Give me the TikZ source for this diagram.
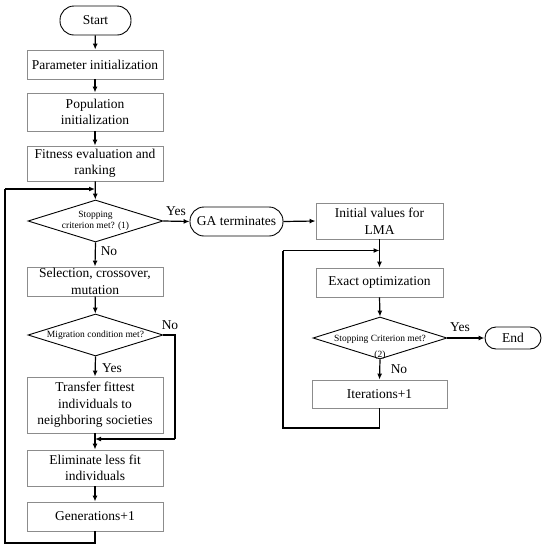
\documentclass[tikz,border=0pt]{standalone}
\usepackage{fontspec}
\setmainfont{Liberation Serif}
\usetikzlibrary{shapes.geometric,arrows.meta}
\begin{document}
\begin{tikzpicture}[x=1pt,y=-1pt,
  box/.style={draw=black!45,line width=0.9pt,rectangle,inner sep=0pt,align=center,font=\fontsize{13.5}{16.5}\selectfont},
  term/.style={draw=black,line width=0.9pt,rectangle,rounded corners=11pt,inner sep=0pt,align=center,font=\fontsize{13.5}{16.5}\selectfont},
  dia/.style={draw=black,line width=0.9pt,diamond,inner sep=0pt},
  dtext/.style={inner sep=0pt,align=center,font=\fontsize{9.5}{11.5}\selectfont},
  lab/.style={inner sep=0pt,font=\fontsize{13.5}{16}\selectfont},
  arr/.style={draw=black,line width=1.2pt,-{Latex[length=6pt,width=5pt]}},
  ln/.style={draw=black,line width=1.2pt}]
\useasboundingbox (0,0) rectangle (547,550);
% left column
\node[term,minimum width=71pt,minimum height=29pt,rounded corners=14pt] (start) at (95.5,20.5) {Start};
\node[box,minimum width=136pt,minimum height=29pt] (param) at (95,64.5) {Parameter initialization};
\node[box,minimum width=136pt,minimum height=38pt] (pop) at (95,112) {Population\\initialization};
\node[box,minimum width=136pt,minimum height=35pt] (fit) at (95,163.5) {Fitness evaluation and\\ranking};
\node[dia,minimum width=135pt,minimum height=42pt] (d1) at (95.5,221) {};
\node[dtext] (d1t) at (95.5,221) {Stopping\\criterion met? (1)};
\node[box,minimum width=136pt,minimum height=29pt] (sel) at (95,281.5) {Selection, crossover,\\mutation};
\node[dia,minimum width=135pt,minimum height=42pt] (d3) at (95.5,335) {};
\node[dtext] (d3t) at (95.5,335) {Migration condition met?};
\node[box,minimum width=136pt,minimum height=56pt] (tr) at (95,405) {Transfer fittest\\individuals to\\neighboring societies};
\node[box,minimum width=136pt,minimum height=36pt] (el) at (95,468) {Eliminate less fit\\individuals};
\node[box,minimum width=136pt,minimum height=29pt] (gen) at (95,516.5) {Generations+1};
% right column
\node[term,minimum width=93pt,minimum height=29pt,rounded corners=14pt] (ga) at (236.5,221.5) {GA terminates};
\node[box,minimum width=127pt,minimum height=36pt] (init) at (379.5,221) {Initial values for\\LMA};
\node[box,minimum width=127pt,minimum height=29pt] (ex) at (379.5,282.5) {Exact optimization};
\node[dia,minimum width=134pt,minimum height=42pt] (d2) at (380,338) {};
\node[dtext] (d2t) at (380,339) {Stopping Criterion met?};
\node[dtext] (d2n) at (380,355) {(2)};
\node[term,minimum width=56pt,minimum height=22pt,rounded corners=11pt] (end) at (513,338) {End};
\node[box,minimum width=135pt,minimum height=28pt] (it) at (379.5,394) {Iterations+1};
% coordinates
\coordinate (lb) at (5,543);
\coordinate (lt) at (5,189);
\coordinate (jt) at (95,189);
\coordinate (mr) at (175,335);
\coordinate (mb) at (175,439);
\coordinate (mj) at (95,439);
\coordinate (rb) at (283,428);
\coordinate (rt) at (283,250.5);
\coordinate (rj) at (379.5,250.5);
% connectors
\path[arr] (start) -- (param);
\path[arr] (param) -- (pop);
\path[arr] (pop) -- (fit);
\path[arr] (fit) -- (d1);
\path[ln] (gen.south) |- (lb) -- (lt);
\path[arr] (lt) -- (jt);
\path[arr] (d1.east) -- (ga.west);
\path[arr] (d1.south) -- (sel.north);
\path[arr] (sel) -- (d3);
\path[arr] (d3.south) -- (tr.north);
\path[ln] (d3.east) -- (mr) -- (mb);
\path[arr] (mb) -- (mj);
\path[arr] (tr) -- (el);
\path[arr] (el) -- (gen);
\path[arr] (ga.east) -- (init.west);
\path[arr] (init) -- (ex);
\path[arr] (ex.south) -- (d2.north);
\path[arr] (d2.east) -- (end.west);
\path[arr] (d2.south) -- (it.north);
\path[ln] (it.south) |- (rb) -- (rt);
\path[arr] (rt) -- (rj);
% labels
\node[lab] (y1) at (176,211) {Yes};
\node[lab] (n1) at (109,251.5) {No};
\node[lab] (n3) at (170,325) {No};
\node[lab] (y3) at (112,368) {Yes};
\node[lab] (y2) at (460,327) {Yes};
\node[lab] (n2) at (399,369) {No};
\end{tikzpicture}
\end{document}
